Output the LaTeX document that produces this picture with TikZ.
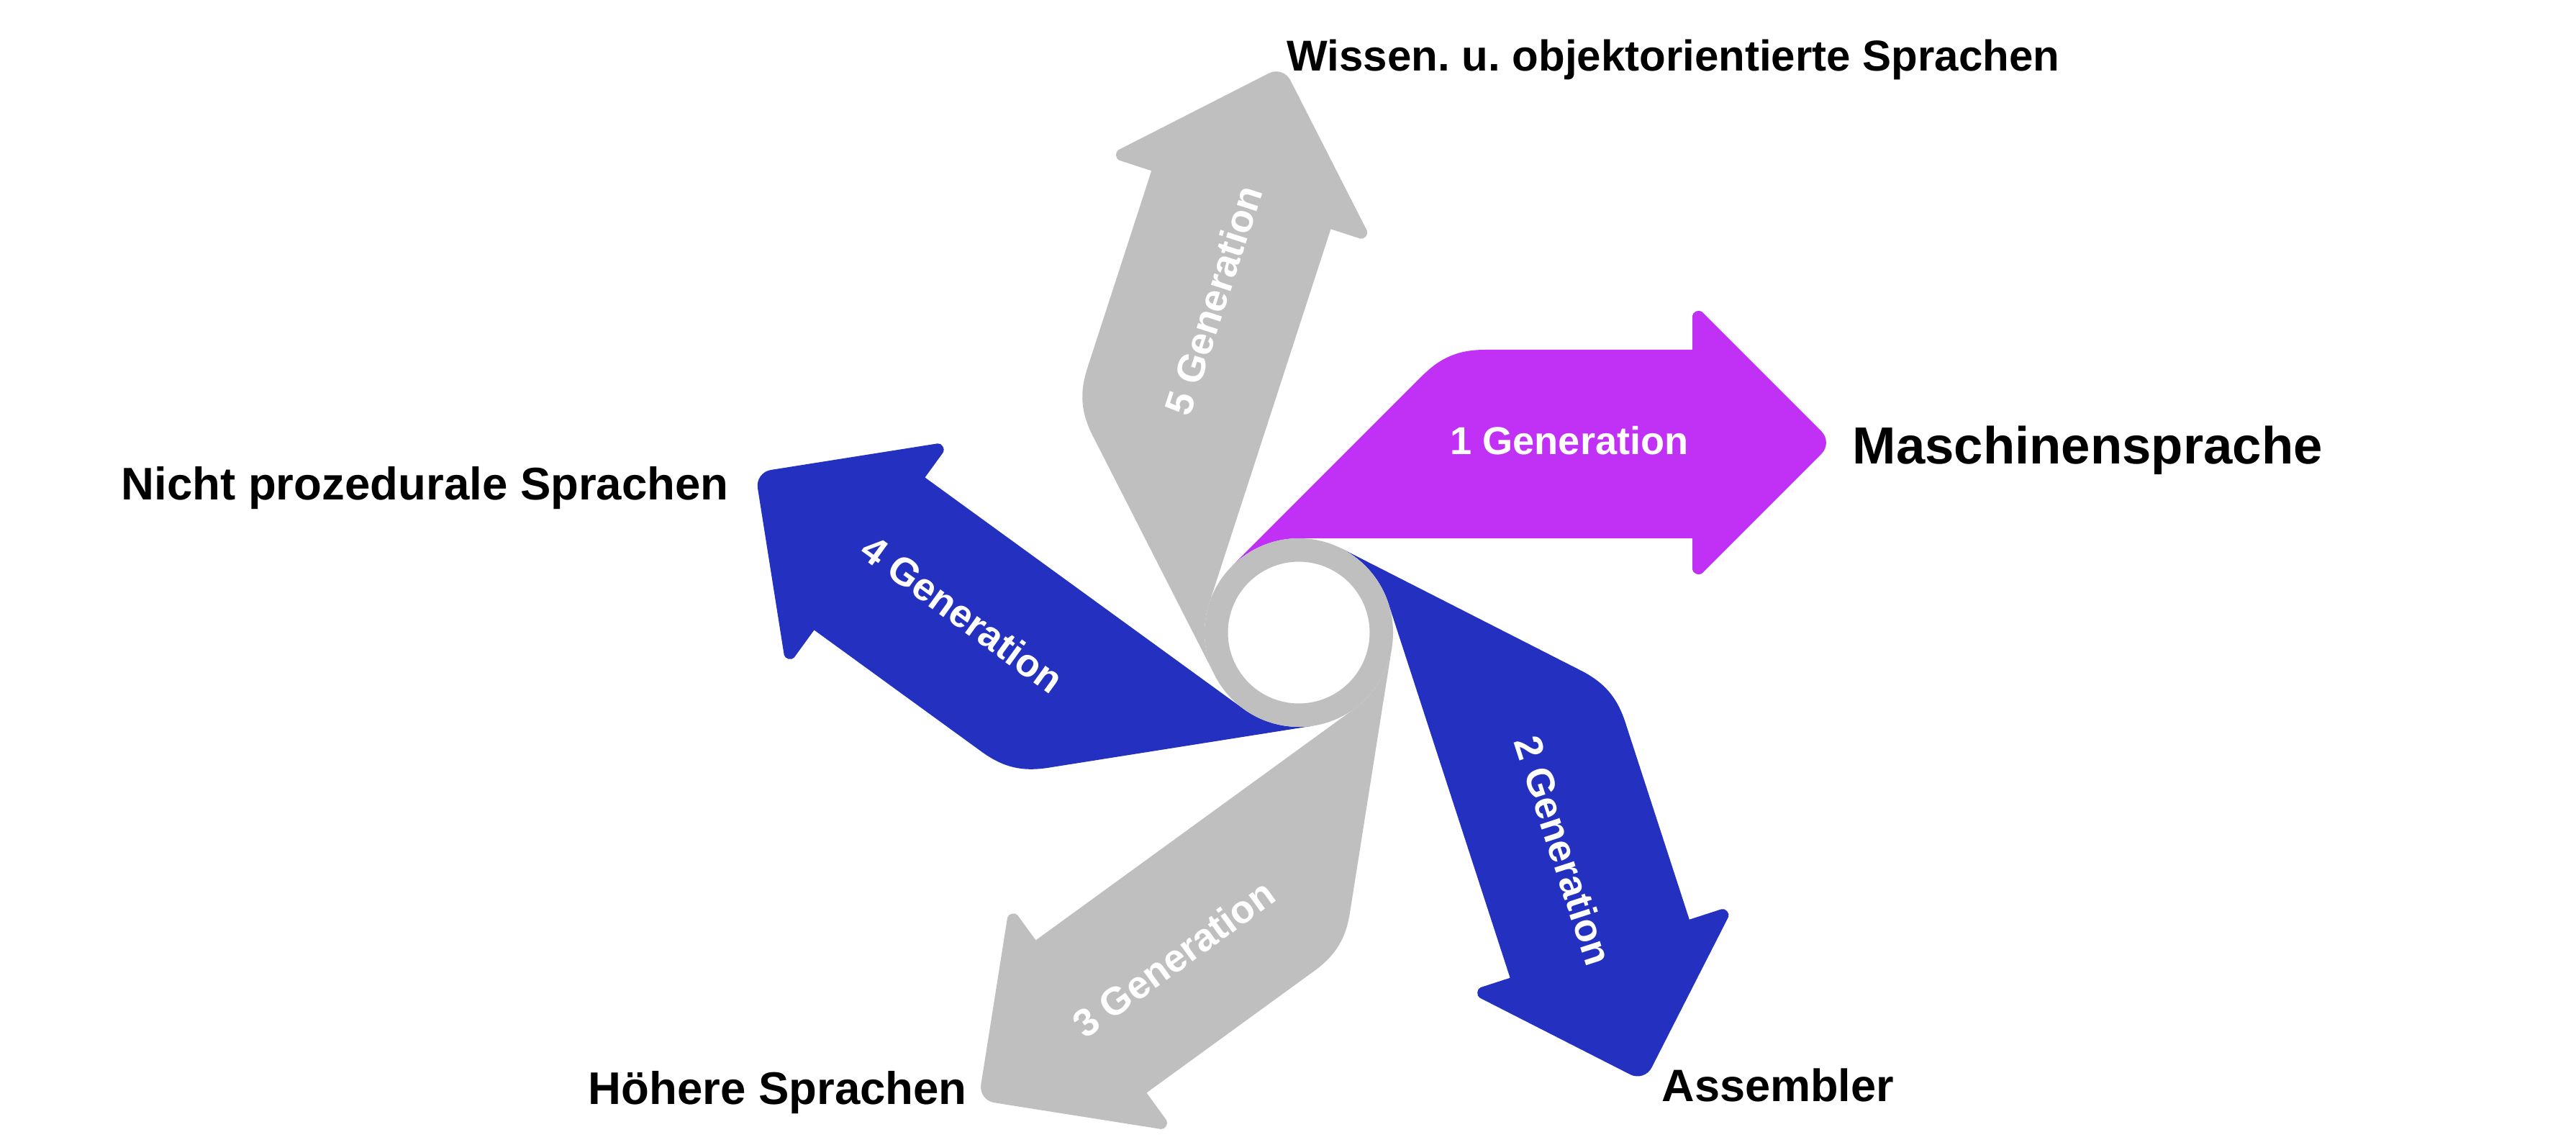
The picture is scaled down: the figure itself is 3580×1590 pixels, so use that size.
\documentclass[tikz,border=0pt]{standalone}
\usepackage{fontspec}
\setmainfont{Liberation Sans}
\frenchspacing
\definecolor{magentaA}{RGB}{192,48,245}
\definecolor{blueA}{RGB}{36,48,191}
\definecolor{greyA}{RGB}{191,191,191}
\newcommand{\genpath}{(135:131) -- (170.9,356.2) to[out=45,in=180] (259.7,393) -- (547,393) -- (547,440) to[out=90,in=135] (560.4,445.6) -- (726.4,279.6) to[out=-45,in=45] (726.4,248.4) -- (560.4,82.4) to[out=-135,in=-90] (547,88) -- (547,131) -- (0,131) arc[start angle=90,end angle=135,radius=131] -- cycle}
\tikzset{
  genlabel/.style={text=white, inner sep=0pt, font=\bfseries\fontsize{15.4pt}{18pt}\selectfont},
  outlabel/.style={text=black, inner sep=0pt, anchor=base west},
}
\begin{document}
\begin{tikzpicture}[x=0.01cm, y=0.01cm]
\useasboundingbox (0,0) rectangle (3580,1590);
\fill[white] (0,0) rectangle (3580,1590);
\coordinate (c) at (1805,711);
% arrows
\begin{scope}[shift={(c)}, rotate=0]
  \fill[magentaA] \genpath;
\end{scope}
\begin{scope}[shift={(c)}, rotate=-72]
  \fill[blueA] \genpath;
\end{scope}
\begin{scope}[shift={(c)}, rotate=-144]
  \fill[greyA] \genpath;
\end{scope}
\begin{scope}[shift={(c)}, rotate=144]
  \fill[blueA] \genpath;
\end{scope}
\begin{scope}[shift={(c)}, rotate=72]
  \fill[greyA] \genpath;
\end{scope}
% ring
\fill[greyA, even odd rule] (c) circle[radius=131] (c) circle[radius=98.5];
% labels in arrows
\node[genlabel, rotate=0]   (g1) at (2181,978) {1 Generation};
\node[genlabel, rotate=-72] (g2) at (2173,408) {2 Generation};
\node[genlabel, rotate=36]  (g3) at (1631,258) {3 Generation};
\node[genlabel, rotate=-36] (g4) at (1338,737) {4 Generation};
\node[genlabel, rotate=72]  (g5) at (1686,1173) {5 Generation};
% outer labels
\node[outlabel, font=\bfseries\fontsize{20.63pt}{24pt}\selectfont] (l1) at (2574,945) {Maschinensprache};
\node[outlabel, font=\bfseries\fontsize{17.93pt}{21pt}\selectfont] (l2) at (2309,60) {Assembler};
\node[outlabel, font=\bfseries\fontsize{18.07pt}{21pt}\selectfont] (l3) at (817,55) {Höhere Sprachen};
\node[outlabel, font=\bfseries\fontsize{18.07pt}{21pt}\selectfont] (l4) at (168,895) {Nicht prozedurale Sprachen};
\node[outlabel, font=\bfseries\fontsize{17.07pt}{20pt}\selectfont] (l5) at (1788,1491) {Wissen. u. objektorientierte Sprachen};
\end{tikzpicture}
\end{document}
